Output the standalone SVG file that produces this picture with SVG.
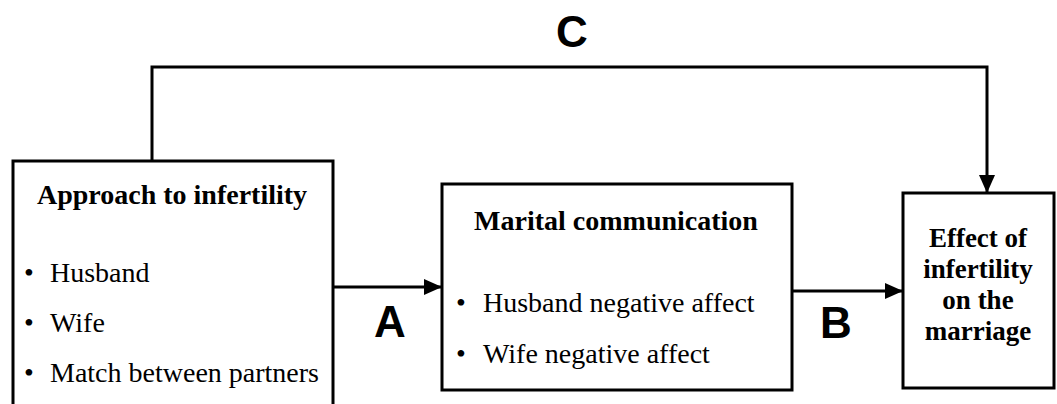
<svg xmlns="http://www.w3.org/2000/svg" width="1057" height="404" viewBox="0 0 1057 404">
<defs>
<marker id="ah" markerUnits="userSpaceOnUse" markerWidth="18" markerHeight="16" refX="18" refY="8" orient="auto">
<path d="M0,0 L18,8 L0,16 Z" fill="#000"/>
</marker>
<style>
.box{fill:#fff;stroke:#000;stroke-width:3}
.ln{fill:none;stroke:#000;stroke-width:3}
.t{font-family:"Liberation Serif","Times New Roman",serif;font-size:28px;fill:#000}
.b{font-weight:bold;text-anchor:middle}
.r{font-size:27px}
.L{font-family:"Liberation Sans",Arial,sans-serif;font-weight:bold;font-size:44px;text-anchor:middle;fill:#000}
</style>
</defs>
<rect width="1057" height="404" fill="#fff"/>
<g id="connectors">
<path class="ln" d="M152,161 V67 H987 V193" marker-end="url(#ah)"/>
<path class="ln" d="M333,287 H442" marker-end="url(#ah)"/>
<path class="ln" d="M792,291 H903" marker-end="url(#ah)"/>
<text class="L" x="572" y="47">C</text>
<text class="L" x="390" y="337">A</text>
<text class="L" x="836" y="338">B</text>
</g>
<g id="approach">
<rect class="box" x="13" y="161" width="320" height="260"/>
<text class="t b" x="172" y="204">Approach to infertility</text>
<text class="t" x="24" y="282">•</text><text class="t" x="50" y="282">Husband</text>
<text class="t" x="24" y="332">•</text><text class="t" x="50" y="332">Wife</text>
<text class="t" x="24" y="382">•</text><text class="t" x="50" y="382">Match between partners</text>
</g>
<g id="marital">
<rect class="box" x="442" y="184" width="350" height="206"/>
<text class="t b" x="616" y="230">Marital communication</text>
<text class="t" x="456" y="312">•</text><text class="t" x="483" y="312">Husband negative affect</text>
<text class="t" x="456" y="363">•</text><text class="t" x="483" y="363">Wife negative affect</text>
</g>
<g id="effect">
<rect class="box" x="903" y="193" width="151" height="195"/>
<text class="t b r" x="978" y="247">Effect of</text>
<text class="t b r" x="978" y="278">infertility</text>
<text class="t b r" x="978" y="309">on the</text>
<text class="t b r" x="978" y="340">marriage</text>
</g>
</svg>
